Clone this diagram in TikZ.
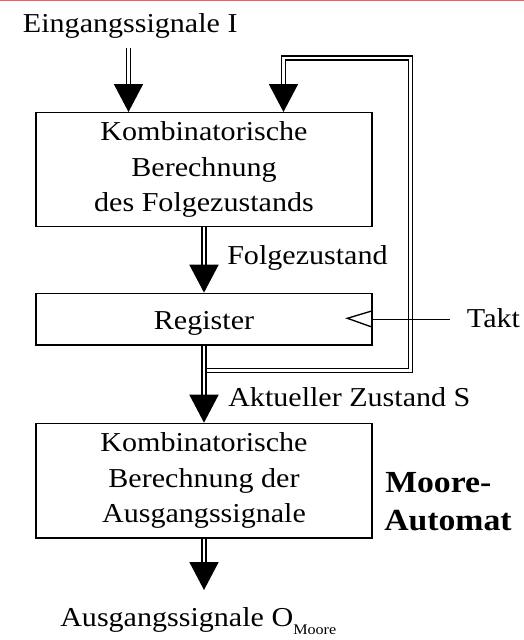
\documentclass[tikz,border=0pt]{standalone}
\usepackage{fontspec}
\setmainfont[FakeStretch=1.1]{Liberation Serif}
\usetikzlibrary{arrows.meta}
\definecolor{rahmenrot}{RGB}{238,96,96}

\begin{document}
\begin{tikzpicture}[x=0.75pt,y=-0.75pt,
	block/.style={draw, line width=1pt, minimum width=252pt, inner sep=0pt, align=center,
		font=\fontsize{20.5}{26.6}\selectfont, execute at begin node=\rule{0pt}{1em}},
	txt/.style={inner sep=0pt, anchor=base west, font=\fontsize{20.5}{24}\selectfont},
	titel/.style={txt, font=\bfseries\fontsize{23}{28}\selectfont},
	bus/.style={double, double distance=1.7pt, line width=1.3pt,
		-{Triangle[length=21pt,width=21.75pt]}}]
\useasboundingbox (0,0) rectangle (524,640);
\draw[rahmenrot, line width=1pt] (0,0.7) -- (524,0.7);

% Bloecke
\node[block, minimum height=85.5pt] (komb) at (204,169.7) {Kombinatorische\\Berechnung\\des Folgezustands};
\node[block, minimum height=38.8pt] (reg) at (204,319.2) {Register};
\node[block, minimum height=86pt] (ausg) at (204,480.7) {Kombinatorische\\Berechnung der\\Ausgangssignale};

% Beschriftungen
\node[txt] (ein) at (22.7,32.7) {Eingangssignale I};
\node[txt] (folge) at (227,264.3) {Folgezustand};
\node[txt] (akt) at (228,406) {Aktueller Zustand S};
\node[txt] (takt) at (466.7,327) {Takt};
\node[txt] (aus) at (60,626.7) {Ausgangssignale O\raisebox{-6.2pt}{\fontsize{11}{12}\selectfont Moore}};
\node[titel] (moore) at (385,492.7) {Moore-};
\node[titel] (automat) at (384,530.7) {Automat};

\coordinate (in1) at (128.5,48);
\coordinate (fb) at (204,370.5);
\coordinate (ruck) at (410.5,58);
\coordinate (out) at (204,590);

% Busse
\draw[bus] (in1) -- (in1 |- komb.north);
\draw[bus] (fb) -| (ruck) -| ([xshift=59.6pt]komb.north);
\draw[bus] (komb) -- (reg);
\draw[bus] (reg) -- (ausg);
\draw[bus] (ausg) -- (out);

% Takt
\draw[line width=1pt] (reg.east) ++(0,-8.5) -- ++(-25.3,7.6) -- ++(25.3,9);
\draw[line width=1pt, shorten >=12.5pt] (reg.east) -- (reg.east -| takt.west);
\end{tikzpicture}
\end{document}
